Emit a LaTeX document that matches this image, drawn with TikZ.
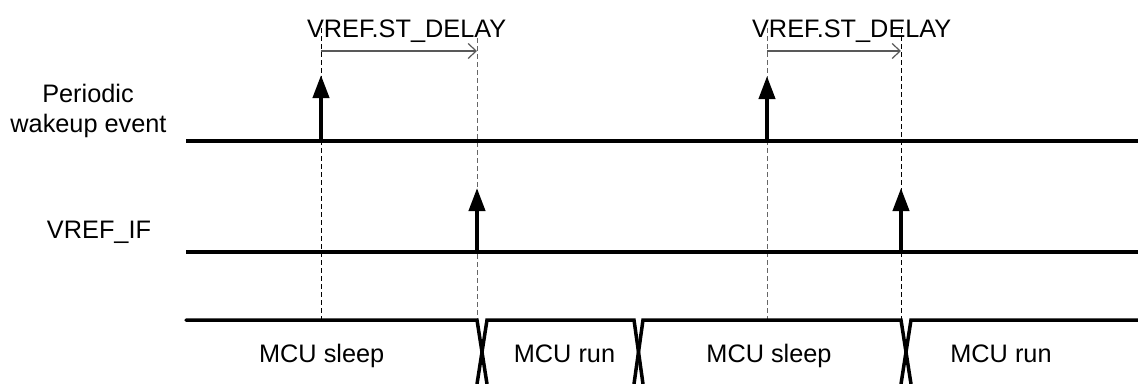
\documentclass[tikz,border=0pt]{standalone}
\usepackage{fontspec}
\setmainfont{Liberation Sans}
\usetikzlibrary{arrows.meta}
\begin{document}
\begin{tikzpicture}[x=1pt,y=-1pt,
  every node/.style={inner sep=0pt,font=\fontsize{25.3pt}{30pt}\selectfont},
  sigline/.style={line width=4pt},
  busline/.style={line width=3.5pt,line join=miter},
  pulse/.style={line width=4pt,-{Triangle[length=23pt,width=16pt]}},
  guide/.style={line width=1pt,dash pattern=on 5pt off 3pt},
  delay/.style={line width=1.2pt,draw=black!65,-{Straight Barb[length=8pt,width=15pt,line width=1.2pt]}},
  lbl/.style={anchor=base}
]
\useasboundingbox (0,0) rectangle (1138,383);

% signal labels
\node[lbl] (p1) at (88,102.3) {Periodic};
\node[lbl] (p2) at (88.5,132.7) {wakeup event};
\node[lbl] (vif) at (99,238.3) {VREF\_IF};

% time guides
\coordinate (g1t) at (321,28);  \coordinate (g1b) at (321,320);
\coordinate (g2t) at (477,38);  \coordinate (g2b) at (477,320);
\coordinate (g3t) at (767,28);  \coordinate (g3b) at (767,320);
\coordinate (g4t) at (901,28);  \coordinate (g4b) at (901,320);
\draw[guide] (g1t) -- (g1b);
\draw[guide,draw=black!60] (g2t) -- (g2b);
\draw[guide,draw=black!60] (g3t) -- (g3b);
\draw[guide] (g4t) -- (g4b);

% delay labels and arrows
\node[lbl] (dl1) at (406.6,37.3) {VREF.ST\_DELAY};
\node[lbl] (dl2) at (851.7,37.3) {VREF.ST\_DELAY};
\coordinate (da1) at (321,51); \coordinate (db1) at (477,51);
\coordinate (da2) at (767,51); \coordinate (db2) at (901,51);
\draw[delay] (da1) -- (db1);
\draw[delay] (da2) -- (db2);

% signal lines
\coordinate (w0) at (186,141); \coordinate (w1) at (1138,141);
\coordinate (v0) at (186,252); \coordinate (v1) at (1138,252);
\draw[sigline] (w0) -- (w1);
\draw[sigline] (v0) -- (v1);

% pulses
\coordinate (a1b) at (321,141); \coordinate (a1t) at (321,75);
\coordinate (a2b) at (477,252); \coordinate (a2t) at (477,188);
\coordinate (a3b) at (767,141); \coordinate (a3t) at (767,76);
\coordinate (a4b) at (901,252); \coordinate (a4t) at (901,188);
\draw[pulse] (a1b) -- (a1t);
\draw[pulse] (a2b) -- (a2t);
\draw[pulse] (a3b) -- (a3t);
\draw[pulse] (a4b) -- (a4t);

% bus
\draw[busline,line cap=round] (186,320) -- (477,320) -- (487,384);
\draw[busline] (477,384) -- (487,320) -- (634,320) -- (643,384);
\draw[busline] (634,384) -- (643,320) -- (901,320) -- (911,384);
\draw[busline] (901,384) -- (911,320) -- (1140,320);

\node[lbl] (s1) at (321.7,362.7) {MCU sleep};
\node[lbl] (r1) at (564.5,362.7) {MCU run};
\node[lbl] (s2) at (769,362.7) {MCU sleep};
\node[lbl] (r2) at (1001,362.7) {MCU run};
\end{tikzpicture}
\end{document}
